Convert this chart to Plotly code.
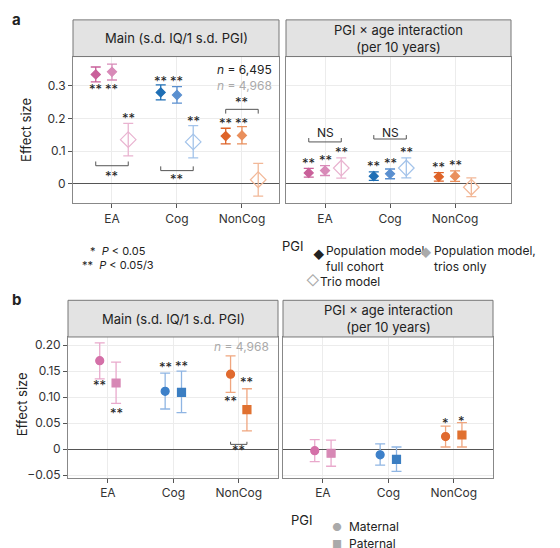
import plotly.graph_objects as go

W, H = 560, 548
cats = ["EA", "Cog", "NonCog"]

# Panel a values: [full cohort, trios only, trio model]
a_main_est = {"EA": [0.335, 0.343, 0.135], "Cog": [0.280, 0.272, 0.128], "NonCog": [0.146, 0.148, 0.012]}
a_main_lo = {"EA": [0.312, 0.318, 0.085], "Cog": [0.257, 0.247, 0.079], "NonCog": [0.122, 0.122, -0.038]}
a_main_hi = {"EA": [0.358, 0.367, 0.185], "Cog": [0.303, 0.298, 0.178], "NonCog": [0.170, 0.175, 0.062]}
a_int_est = {"EA": [0.033, 0.040, 0.048], "Cog": [0.023, 0.030, 0.048], "NonCog": [0.021, 0.023, -0.011]}
a_int_lo = {"EA": [0.020, 0.025, 0.017], "Cog": [0.010, 0.015, 0.018], "NonCog": [0.008, 0.007, -0.040]}
a_int_hi = {"EA": [0.047, 0.055, 0.079], "Cog": [0.036, 0.045, 0.079], "NonCog": [0.034, 0.039, 0.018]}

# Panel b values: [maternal, paternal]
b_main_est = {"EA": [0.170, 0.127], "Cog": [0.111, 0.109], "NonCog": [0.144, 0.076]}
b_main_lo = {"EA": [0.135, 0.088], "Cog": [0.077, 0.070], "NonCog": [0.109, 0.035]}
b_main_hi = {"EA": [0.204, 0.167], "Cog": [0.146, 0.150], "NonCog": [0.179, 0.116]}
b_int_est = {"EA": [-0.003, -0.008], "Cog": [-0.011, -0.020], "NonCog": [0.024, 0.027]}
b_int_lo = {"EA": [-0.024, -0.033], "Cog": [-0.031, -0.043], "NonCog": [0.004, 0.004]}
b_int_hi = {"EA": [0.018, 0.017], "Cog": [0.010, 0.004], "NonCog": [0.044, 0.051]}

cols_a = {"EA": ["#c9609a", "#d88ab8", "#e9b3d0"], "Cog": ["#1f6fb5", "#5a8fcf", "#a3c3ea"],
          "NonCog": ["#de6328", "#e98f5c", "#f2b898"]}
cols_b = {"EA": ["#d470a8", "#d788b5"], "Cog": ["#3d80c9", "#3b7ec2"], "NonCog": ["#e06a2f", "#e0702f"]}
err_b = {"EA": "#e9a9cc", "Cog": "#8fb5e3", "NonCog": "#f0a67f"}

def px(x): return x / W
def py(y): return 1 - y / H

fig = go.Figure()
font = "Inter"

axes = {
    "a1": dict(x=(65, 271), y=(49, 197), xr=[-0.6, 2.57], yr=[-0.06, 0.39]),
    "a2": dict(x=(278, 503), y=(49, 197), xr=[-0.6, 2.86], yr=[-0.06, 0.39]),
    "b1": dict(x=(60, 270), y=(332, 474), xr=[-0.61, 2.6], yr=[-0.055, 0.2155]),
    "b2": dict(x=(275, 485), y=(332, 474), xr=[-0.61, 2.6], yr=[-0.055, 0.2155]),
}
names = {"a1": ("x", "y"), "a2": ("x2", "y2"), "b1": ("x3", "y3"), "b2": ("x4", "y4")}
layout_axes = {}
for k, (xa, ya) in names.items():
    d = axes[k]
    xn = "xaxis" + xa[1:]
    yn = "yaxis" + ya[1:]
    layout_axes[xn] = dict(domain=[px(d["x"][0]), px(d["x"][1])], range=d["xr"], anchor=ya,
                           tickmode="array", tickvals=[0, 1, 2], ticktext=cats, showgrid=True,
                           gridcolor="#ececec", zeroline=False, ticks="outside", ticklen=4,
                           tickcolor="#555", showline=True, linecolor="#888", mirror=True,
                           tickfont=dict(size=12, color="#333"))
    if k.startswith("a"):
        tv = [0, 0.1, 0.2, 0.3]; tt = ["0", "0.1", "0.2", "0.3"]
    else:
        tv = [-0.05, 0, 0.05, 0.10, 0.15, 0.20]; tt = ["−0.05", "0", "0.05", "0.10", "0.15", "0.20"]
    layout_axes[yn] = dict(domain=[py(d["y"][1]), py(d["y"][0])], range=d["yr"], anchor=xa,
                           tickmode="array", tickvals=tv, ticktext=tt, showgrid=True,
                           gridcolor="#ececec", zeroline=True, zerolinecolor="#555", zerolinewidth=1,
                           showline=True, linecolor="#888", mirror=True,
                           ticks="outside" if k.endswith("1") else "", ticklen=4, tickcolor="#555",
                           showticklabels=k.endswith("1"), tickfont=dict(size=12, color="#333"))

def add_group(ax, est, lo, hi, colors, errcols, offsets, symbols, size, osize):
    xa, ya = names[ax]
    for ci, c in enumerate(cats):
        for j, off in enumerate(offsets):
            e = est[c][j]
            fig.add_trace(go.Scatter(
                x=[ci + off], y=[e], mode="markers", xaxis=xa, yaxis=ya, showlegend=False,
                marker=dict(symbol=symbols[j], size=size if "open" not in symbols[j] else osize,
                            color=colors[c][j], line=dict(width=1.2, color=colors[c][j])),
                error_y=dict(type="data", symmetric=False, array=[hi[c][j] - e], arrayminus=[e - lo[c][j]],
                             color=errcols(c, j), thickness=1.3, width=5)))

acols = lambda c, j: cols_a[c][j]
add_group("a1", a_main_est, a_main_lo, a_main_hi, cols_a, acols, [-0.25, 0, 0.25], ["diamond", "diamond", "diamond-open"], 7, 12)
add_group("a2", a_int_est, a_int_lo, a_int_hi, cols_a, acols, [-0.25, 0, 0.25], ["diamond", "diamond", "diamond-open"], 7, 12)
bcols = lambda c, j: err_b[c]
add_group("b1", b_main_est, b_main_lo, b_main_hi, cols_b, bcols, [-0.125, 0.125], ["circle", "square"], 8, 8)
add_group("b2", b_int_est, b_int_lo, b_int_hi, cols_b, bcols, [-0.125, 0.125], ["circle", "square"], 8, 8)

ann = []
shapes = []
def star(ax, x, y, t, size=13, color="#222"):
    xa, ya = names[ax]
    ann.append(dict(x=x, y=y, xref=xa, yref=ya, text=t, showarrow=False, font=dict(size=size, color=color, family=font)))

def bracket(ax, x0, x1, y, h):
    xa, ya = names[ax]
    shapes.append(dict(type="path", xref=xa, yref=ya, path=f"M {x0},{y+h} L {x0},{y} L {x1},{y} L {x1},{y+h}",
                       line=dict(color="#555", width=1)))

star("a1", -0.25, 0.29, "**"); star("a1", 0, 0.29, "**"); star("a1", 0.25, 0.2, "**")
star("a1", 0.75, 0.315, "**"); star("a1", 1, 0.315, "**"); star("a1", 1.25, 0.193, "**")
star("a1", 1.75, 0.187, "**"); star("a1", 2, 0.187, "**")
bracket("a1", -0.25, 0.25, 0.055, 0.013); star("a1", 0, 0.025, "**")
bracket("a1", 0.75, 1.25, 0.04, 0.013); star("a1", 1, 0.013, "**")
bracket("a1", 1.75, 2.25, 0.228, -0.013); star("a1", 2, 0.25, "**")
for ci, c in enumerate(cats):
    for j, off in enumerate([-0.25, 0, 0.25]):
        if c == "NonCog" and j == 2:
            continue
        star("a2", ci + off, a_int_hi[c][j] + 0.017, "**")
bracket("a2", -0.25, 0.25, 0.128, 0.012); star("a2", 0, 0.157, "NS", size=12)
bracket("a2", 0.75, 1.25, 0.137, 0.012); star("a2", 1, 0.157, "NS", size=12)
ann.append(dict(x=2.5, y=0.35, xref="x", yref="y", xanchor="right", text="<i>n</i> = 6,495", showarrow=False,
                font=dict(size=12, color="#222", family=font)))
ann.append(dict(x=2.5, y=0.302, xref="x", yref="y", xanchor="right", text="<i>n</i> = 4,968", showarrow=False,
                font=dict(size=12, color="#aaa", family=font)))

star("b1", -0.125, 0.124, "**"); star("b1", 0.125, 0.07, "**")
star("b1", 0.875, 0.157, "**"); star("b1", 1.125, 0.159, "**")
star("b1", 1.875, 0.093, "**"); star("b1", 2.125, 0.128, "**")
bracket("b1", 1.875, 2.125, 0.009, 0.005); star("b1", 2, -0.001, "**")
star("b2", 1.875, 0.05, "*"); star("b2", 2.125, 0.054, "*")
ann.append(dict(x=2.5, y=0.198, xref="x3", yref="y3", xanchor="right", text="<i>n</i> = 4,968", showarrow=False,
                font=dict(size=12, color="#aaa", family=font)))

strips = [((65, 271), (12, 49), "Main (s.d. IQ/1 s.d. PGI)"),
          ((278, 503), (12, 49), "PGI × age interaction<br>(per 10 years)"),
          ((60, 270), (295, 332), "Main (s.d. IQ/1 s.d. PGI)"),
          ((275, 485), (295, 332), "PGI × age interaction<br>(per 10 years)")]
for (x0, x1), (y0, y1), t in strips:
    shapes.append(dict(type="rect", xref="paper", yref="paper", x0=px(x0), x1=px(x1), y0=py(y1), y1=py(y0),
                       fillcolor="#e3e3e3", line=dict(color="#777", width=1)))
    ann.append(dict(x=px((x0 + x1) / 2), y=py((y0 + y1) / 2), xref="paper", yref="paper", text=t, showarrow=False,
                    xanchor="center", yanchor="middle", align="center",
                    font=dict(size=13, color="#222", family=font)))

def ptext(x, y, t, size=12, color="#222", xanchor="left", yanchor="top", **kw):
    ann.append(dict(x=px(x), y=py(y), xref="paper", yref="paper", text=t, showarrow=False, xanchor=xanchor,
                    yanchor=yanchor, align="left", font=dict(size=size, color=color, family=font), **kw))

ptext(2, 0, "<b>a</b>", size=15)
ptext(2, 283, "<b>b</b>", size=15)
ptext(18, 123, "Effect size", size=13, xanchor="center", yanchor="middle", textangle=-90)
ptext(14, 400, "Effect size", size=13, xanchor="center", yanchor="middle", textangle=-90)
ptext(285, 230, "PGI", size=13, xanchor="center")
ptext(294, 507, "PGI", size=13, xanchor="center")
ptext(80, 236, "*  <i>P</i> < 0.05", size=11)
ptext(72, 250, "**  <i>P</i> < 0.05/3", size=11)
ptext(303, 240, "◆", size=11)
ptext(316, 235, "Population model,<br>full cohort", size=12)
ptext(410, 238, "◆", size=11, color="#aaa")
ptext(424, 235, "Population model,<br>trios only", size=12)
ptext(296, 264, "◇", size=13, color="#aaa")
ptext(310, 266, "Trio model", size=12)
ptext(322, 515, "●", size=11, color="#aaa")
ptext(339, 514, "Maternal", size=12)
ptext(322, 532, "■", size=11, color="#aaa")
ptext(339, 531, "Paternal", size=12)

fig.update_layout(width=W, height=H, margin=dict(l=0, r=0, t=0, b=0), plot_bgcolor="white",
                  paper_bgcolor="white", font=dict(family=font, color="#333"), annotations=ann, shapes=shapes,
                  **layout_axes)
fig.write_html("out.html")
